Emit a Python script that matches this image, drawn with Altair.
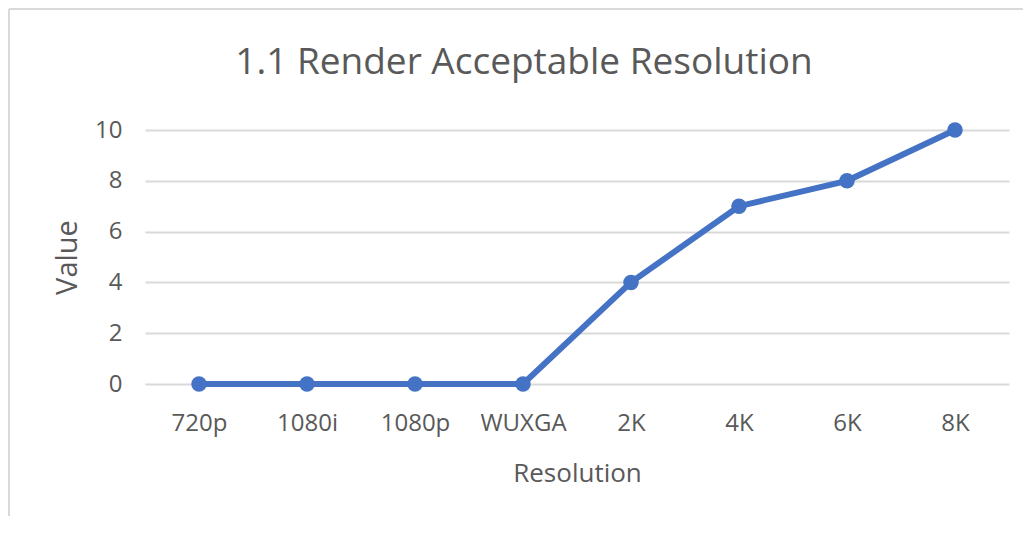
import altair as alt
import pandas as pd

categories = ["720p", "1080i", "1080p", "WUXGA", "2K", "4K", "6K", "8K"]
values = [0, 0, 0, 0, 4, 7, 8, 10]
y_ticks = [0, 2, 4, 6, 8, 10]
title_text = "1.1 Render Acceptable Resolution"

df = pd.DataFrame({"Resolution": categories, "Value": values})
frame_df = pd.DataFrame({"a": [0]})
title_df = pd.DataFrame({"t": [title_text]})

TEXT = "#595959"
FONT = "Open Sans"
BLUE = "#4472C4"
GRID = "#D9D9D9"

x = alt.X("Resolution:N", sort=categories,
          scale=alt.Scale(type="point", padding=0.5),
          axis=alt.Axis(title="Resolution", labelAngle=0, labelFontSize=24,
                        labelColor=TEXT, labelFont=FONT, labelPadding=27,
                        titleFontSize=26, titleColor=TEXT, titleFont=FONT,
                        titleFontWeight="normal", titlePadding=25,
                        ticks=False, domain=False, grid=False))
y = alt.Y("Value:Q", scale=alt.Scale(domain=[0, 10], nice=False),
          axis=alt.Axis(title="Value", values=y_ticks, labelFontSize=24,
                        labelColor=TEXT, labelFont=FONT, labelPadding=23,
                        titleFontSize=29, titleColor=TEXT, titleFont=FONT,
                        titleFontWeight="normal", titlePadding=12,
                        ticks=False, domain=False, grid=True,
                        gridColor=GRID, gridWidth=2))

line = alt.Chart(df).mark_line(color=BLUE, strokeWidth=6).encode(x=x, y=y)
pts = alt.Chart(df).mark_point(color=BLUE, filled=True, opacity=1, size=240).encode(x=x, y=y)

left_border = alt.Chart(frame_df).mark_rule(color=GRID, strokeWidth=2).encode(
    x=alt.value(-136), y=alt.value(-121), y2=alt.value(386))
top_border = alt.Chart(frame_df).mark_rule(color=GRID, strokeWidth=2).encode(
    x=alt.value(-136), x2=alt.value(878), y=alt.value(-121))

title = alt.Chart(title_df).mark_text(
    font=FONT, fontSize=37, color=TEXT, align="center", baseline="alphabetic"
).encode(text="t:N", x=alt.value(379), y=alt.value(-56))

chart = (left_border + top_border + title + line + pts).properties(
    width=864, height=254,
    autosize=alt.AutoSizeParams(type="none"),
    padding={"left": 137, "top": 122, "right": 14, "bottom": 132},
).configure_view(stroke=None)

chart.save("out.html", embed_options={"renderer": "svg", "actions": False})
